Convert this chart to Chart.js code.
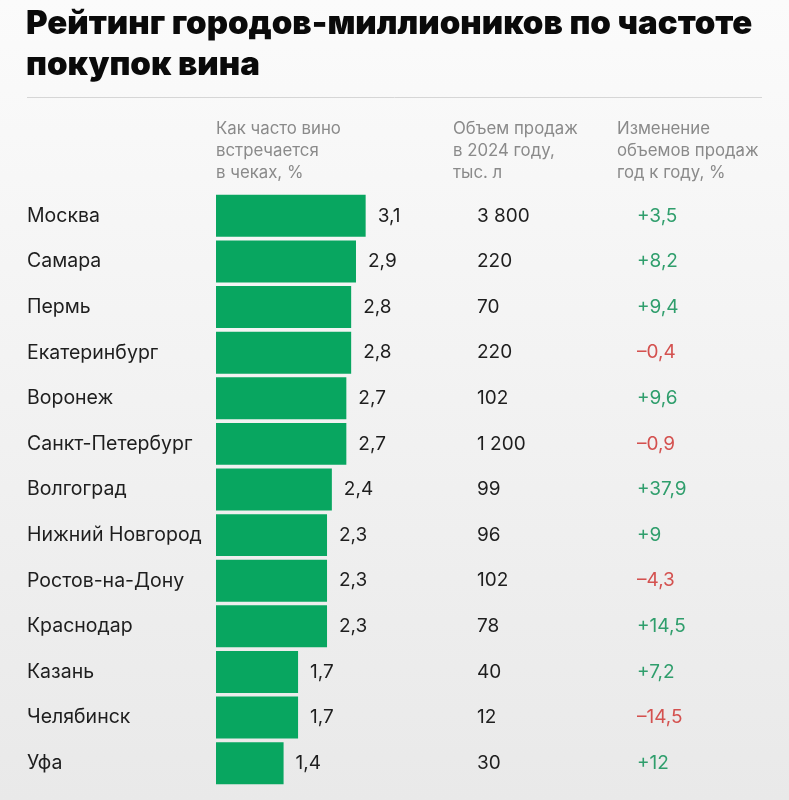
<!DOCTYPE html>
<html><head><meta charset="utf-8">
<script src="https://cdn.jsdelivr.net/npm/chart.js@4"></script>
<style>
html,body{margin:0;padding:0;}
body{width:789px;height:800px;background:linear-gradient(180deg,#fbfbfb 0%,#f2f2f2 50%,#e9e9e9 100%);overflow:hidden;}
#wrap{position:relative;width:789px;height:800px;}
</style></head><body>
<div id="wrap"><canvas id="c" width="789" height="800"></canvas></div>
<script>
const titleLines = ['Рейтинг городов-миллиоников по частоте', 'покупок вина'];
const headerFreq = ['Как часто вино', 'встречается', 'в чеках, %'];
const headerVolume = ['Объем продаж', 'в 2024 году,', 'тыс. л'];
const headerChange = ['Изменение', 'объемов продаж', 'год к году, %'];
const cities = ['Москва','Самара','Пермь','Екатеринбург','Воронеж','Санкт-Петербург','Волгоград','Нижний Новгород','Ростов-на-Дону','Краснодар','Казань','Челябинск','Уфа'];
const frequency = [3.1, 2.9, 2.8, 2.8, 2.7, 2.7, 2.4, 2.3, 2.3, 2.3, 1.7, 1.7, 1.4];
const volume2024 = [3800, 220, 70, 220, 102, 1200, 99, 96, 102, 78, 40, 12, 30];
const changeYoY = [3.5, 8.2, 9.4, -0.4, 9.6, -0.9, 37.9, 9, -4.3, 14.5, 7.2, -14.5, 12];

const fmtDec = v => String(v).replace('.', ',');
const fmtVol = v => String(v).replace(/\B(?=(\d{3})+(?!\d))/g, ' ');
const fmtChg = v => (v > 0 ? '+' : v < 0 ? '–' : '') + fmtDec(Math.abs(v));

const tablePlugin = {
  id: 'table',
  afterDatasetsDraw(chart) {
    const { ctx, scales: { x, y } } = chart;
    ctx.save();
    ctx.textAlign = 'left';
    ctx.textBaseline = 'alphabetic';
    ctx.fillStyle = '#0a0a0a';
    ctx.font = '900 33px Inter';
    ctx.fillText(titleLines[0], 26, 34);
    ctx.fillText(titleLines[1], 26, 75);
    ctx.strokeStyle = '#d6d6d6';
    ctx.lineWidth = 1;
    ctx.beginPath(); ctx.moveTo(27, 97.5); ctx.lineTo(762, 97.5); ctx.stroke();
    ctx.font = '16.8px Inter';
    ctx.fillStyle = '#8a8a8a';
    [[headerFreq, 216], [headerVolume, 453], [headerChange, 617]].forEach(([lines, hx]) =>
      lines.forEach((t, i) => ctx.fillText(t, hx, 134 + 22 * i)));
    ctx.textBaseline = 'middle';
    ctx.font = '19px Inter';
    frequency.forEach((v, i) => {
      const py = y.getPixelForValue(i);
      ctx.fillStyle = '#1e1e1e';
      ctx.fillText(fmtDec(v), x.getPixelForValue(v) + 12, py);
      ctx.fillText(fmtVol(volume2024[i]), 477, py);
      ctx.fillStyle = changeYoY[i] >= 0 ? '#2f9e6c' : '#d4514f';
      ctx.fillText(fmtChg(changeYoY[i]), 637, py);
    });
    ctx.restore();
  }
};

new Chart(document.getElementById('c'), {
  type: 'bar',
  data: {
    labels: cities,
    datasets: [{ data: frequency, backgroundColor: '#08a660', barPercentage: 0.92, categoryPercentage: 1, borderWidth: 0 }]
  },
  options: {
    indexAxis: 'y',
    responsive: false,
    animation: false,
    devicePixelRatio: 1,
    layout: { padding: { top: 193, bottom: 14, left: 27, right: 42 } },
    plugins: { legend: { display: false }, tooltip: { enabled: false } },
    scales: {
      x: { display: false, min: 0, max: 11 },
      y: {
        grid: { display: false },
        border: { display: false },
        ticks: { crossAlign: 'far', color: '#1e1e1e', font: { family: 'Inter', size: 19.5 }, padding: 0 },
        afterFit(s) { s.width = 189; }
      }
    }
  },
  plugins: [tablePlugin]
});
</script>
</body></html>
